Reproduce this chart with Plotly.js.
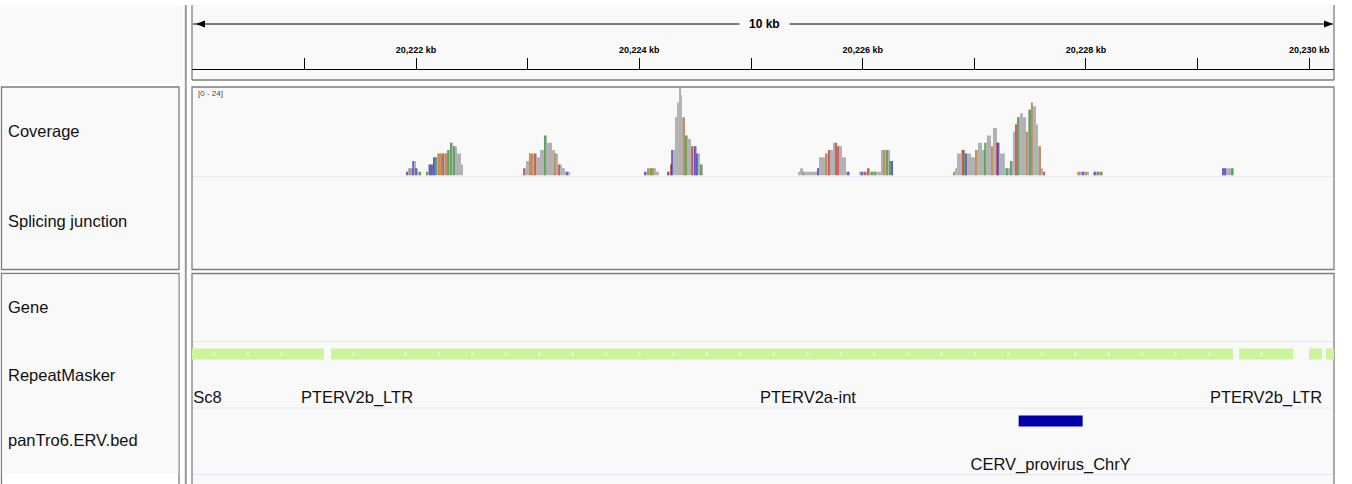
<!DOCTYPE html>
<html>
<head>
<meta charset="utf-8">
<script src="https://cdn.plot.ly/plotly-3.0.1.min.js"></script>
<style>html,body{margin:0;padding:0;background:#fff;}#chart{width:1352px;height:484px;}</style>
</head>
<body>
<div id="chart"></div>
<script>
// ---------------- data ----------------
// visible genomic window (bp)
const viewStart = 20219994;
const viewEnd = 20230221;
// ruler ticks (kb)
const tickKb = [20221, 20222, 20223, 20224, 20225, 20226, 20227, 20228, 20229, 20230];
// coverage: each step starts at covPos and runs to the next position; depth 0 = gap
const covPos = [
  20221910,20221928,20221973,20222000,20222018,20222045,
  20222090,20222107,20222152,20222188,20222278,20222304,20222331,20222367,20222403,20222421,
  20222958,20222985,20223012,20223084,20223110,20223146,20223173,20223218,20223245,20223272,20223307,20223334,20223379,
  20224042,20224069,20224149,20224176,
  20224248,20224275,20224292,20224319,20224337,20224355,20224373,20224382,20224409,20224436,20224463,20224489,20224516,20224543,20224570,
  20225421,20225439,20225466,20225591,20225609,20225663,20225689,20225734,20225770,20225815,20225851,20225886,
  20225967,20226039,20226066,20226164,20226245,20226272,
  20226809,20226827,20226845,20226880,20226916,20226970,20227006,20227033,20227069,20227095,20227113,20227149,20227167,20227203,20227230,20227274,20227319,20227346,20227364,20227382,20227409,20227436,20227463,20227480,20227507,20227525,20227552,20227570,20227597,20227615,20227633,
  20227919,20228027,20228063,20228152,
  20229218,20229325
];
const covDepth = [
  1,2,4,2,1,0,
  1,3,5,6,7,9,8,6,3,0,
  2,4,6,5,7,11,9,7,6,3,2,1,0,
  1,2,1,0,
  1,3,7,16,20,24,22,16,11,10,8,8,6,3,0,
  1,2,1,2,5,6,7,9,8,5,1,0,
  1,2,1,7,4,0,
  1,2,6,7,6,5,7,9,7,9,11,8,13,9,6,2,4,12,14,16,17,16,12,18,20,19,14,8,2,1,0,
  1,0,1,0,
  2,0
];
const covMax = 24;
// mismatch positions and alternate base
const mmPos = [
  20221919,20221946,20221973,20222000,20222036,20222099,20222125,20222143,20222161,20222179,
  20222206,20222224,20222242,20222269,20222287,20222313,20222340,20222967,20223021,20223039,
  20223066,20223155,20223245,20223281,20223352,20224051,20224078,20224104,20224122,20224257,
  20224284,20224292,20224400,20224418,20224472,20224498,20224516,20224552,20225466,20225600,
  20225672,20225698,20225761,20225779,20225869,20225994,20226021,20226048,20226084,20226110,
  20226191,20226218,20226245,20226263,20226818,20226898,20226907,20226925,20227015,20227095,
  20227158,20227203,20227212,20227292,20227328,20227373,20227391,20227472,20227498,20227516,
  20227588,20227624,20227937,20227973,20228000,20228080,20228107,20228134,20229227,20229245,
  20229308
];
const mmBase = [
  'C','G','C','C','A','A','C','C','C','A',
  'G','G','T','G','A','A','A','T','G','G',
  'T','A','G','T','C','C','G','A','G','C',
  'T','C','G','A','T','C','C','A','G','C',
  'G','T','T','T','C','C','T','T','A','A',
  'G','A','A','C','G','T','A','C','G','A',
  'G','T','C','A','A','T','A','G','A','G',
  'G','T','G','C','G','C','T','A','C','C',
  'A'
];
// RepeatMasker features
const rmStart  = [20219090, 20221239, 20221704, 20229370, 20229997, 20230149];
const rmEnd    = [20221176, 20221704, 20229316, 20229854, 20230113, 20230900];
const rmStrand = ['-', '+', '+', '+', '+', '+'];
const rmName   = ['Sc8', 'PTERV2b_LTR', 'PTERV2a-int', 'PTERV2b_LTR', '', ''];
// panTro6.ERV.bed features
const ervStart = [20227397];
const ervEnd   = [20227970];
const ervName  = ['CERV_provirus_ChrY'];
// track names
const trackNames = ['Coverage', 'Splicing junction', 'Gene', 'RepeatMasker', 'panTro6.ERV.bed'];

// ---------------- helpers ----------------
const W = 1352, H = 484;
const PX = x => x / W;
const PY = y => 1 - y / H;
const FONT = 'Liberation Sans, Arial, Helvetica, sans-serif';
const baseColor = {A: 'rgb(20,150,20)', C: 'rgb(20,20,220)', G: 'rgb(209,113,5)', T: 'rgb(230,20,20)'};
function depthAt(p) {
  let d = 0;
  for (let i = 0; i < covPos.length; i++) { if (covPos[i] <= p) d = covDepth[i]; else break; }
  return d;
}
function kbLabel(kb) { return String(kb).replace(/\B(?=(\d{3})+(?!\d))/g, ',') + ' kb'; }

// coverage steps
const cx = [], cw = [], cy = [];
for (let i = 0; i < covPos.length - 1; i++) {
  if (covDepth[i] > 0) {
    cx.push((covPos[i] + covPos[i + 1]) / 2);
    cw.push(covPos[i + 1] - covPos[i]);
    cy.push(covDepth[i]);
  }
}

// rows in the feature panel (y2 values are screen rows)
const rmRow = 354, rmLabelRow = 399, ervRow = 421, ervLabelRow = 466;

// chevrons
const chevX = [], chevT = [];
rmStart.forEach((s, i) => {
  const a = Math.max(s, viewStart), b = Math.min(rmEnd[i], viewEnd);
  for (let p = a + 200; p < b - 120; p += 300) { chevX.push(p); chevT.push(rmStrand[i] === '-' ? '‹' : '›'); }
});
// labels
const labX = [], labT = [];
rmName.forEach((n, i) => {
  if (!n) return;
  labX.push((rmStart[i] + rmEnd[i]) / 2); labT.push(n);
});

const traces = [
  {type: 'bar', x: cx, y: cy, width: cw, marker: {color: 'rgb(178,178,178)', line: {width: 0}},
   xaxis: 'x', yaxis: 'y', hoverinfo: 'skip', textposition: 'none'},
  {type: 'bar', x: mmPos, y: mmPos.map(depthAt), width: mmPos.map(() => 9),
   marker: {color: mmBase.map(b => baseColor[b]), line: {width: 0}},
   xaxis: 'x', yaxis: 'y', hoverinfo: 'skip', textposition: 'none'},
  {type: 'bar', orientation: 'h', base: rmStart, x: rmStart.map((s, i) => rmEnd[i] - s),
   y: rmStart.map(() => rmRow), width: 11, marker: {color: 'rgb(202,245,155)', line: {width: 0}},
   xaxis: 'x', yaxis: 'y2', hoverinfo: 'skip', textposition: 'none'},
  {type: 'scatter', mode: 'text', x: chevX, y: chevX.map(() => rmRow), text: chevT,
   textfont: {family: FONT, size: 10, color: 'rgba(255,255,255,0.9)'},
   xaxis: 'x', yaxis: 'y2', hoverinfo: 'skip'},
  {type: 'scatter', mode: 'text', x: labX, y: labX.map(() => rmLabelRow), text: labT, textposition: 'middle center',
   textfont: {family: FONT, size: 16.5, color: '#111'}, cliponaxis: false,
   xaxis: 'x', yaxis: 'y2', hoverinfo: 'skip'},
  {type: 'bar', orientation: 'h', base: ervStart, x: ervStart.map((s, i) => ervEnd[i] - s),
   y: ervStart.map(() => ervRow), width: 11, marker: {color: 'rgb(0,0,170)', line: {width: 0}},
   xaxis: 'x', yaxis: 'y2', hoverinfo: 'skip', textposition: 'none'},
  {type: 'scatter', mode: 'text', x: ervStart.map((s, i) => (s + ervEnd[i]) / 2), y: ervStart.map(() => ervLabelRow),
   text: ervName, textposition: 'middle center', textfont: {family: FONT, size: 16.5, color: '#111'}, cliponaxis: false,
   xaxis: 'x', yaxis: 'y2', hoverinfo: 'skip'}
];

// ---------------- layout ----------------
const border = 'rgb(125,125,125)';
const panelBg = '#f9f9f9';
const L = (x0, y0, x1, y1, color, w, layer) => ({type: 'line', xref: 'paper', yref: 'paper',
  x0: PX(x0), x1: PX(x1), y0: PY(y0), y1: PY(y1), line: {color: color, width: w}, layer: layer || 'above'});
const shapes = [
  // ruler row
  {type: 'rect', xref: 'paper', yref: 'paper', x0: PX(0), x1: PX(183), y0: PY(81), y1: PY(5), fillcolor: panelBg, line: {width: 0}, layer: 'below'},
  {type: 'rect', xref: 'paper', yref: 'paper', x0: PX(192), x1: PX(1334), y0: PY(80), y1: PY(5), fillcolor: panelBg, line: {width: 0}, layer: 'below'},
  L(192, 5, 192, 80, border, 1.3, 'below'), L(1334, 5, 1334, 80, border, 1.3, 'below'), L(192, 80, 1334, 80, border, 1.3, 'below'),
  // coverage / splice panel
  {type: 'rect', xref: 'paper', yref: 'paper', x0: PX(1.5), x1: PX(179), y0: PY(269.5), y1: PY(87), fillcolor: panelBg, line: {color: border, width: 1.3}, layer: 'below'},
  {type: 'rect', xref: 'paper', yref: 'paper', x0: PX(192), x1: PX(1334), y0: PY(269.5), y1: PY(87), fillcolor: panelBg, line: {color: border, width: 1.3}, layer: 'below'},
  // feature panel
  {type: 'rect', xref: 'paper', yref: 'paper', x0: PX(1.5), x1: PX(179), y0: PY(490), y1: PY(273.5), fillcolor: '#fff', line: {color: border, width: 1.3}, layer: 'below'},
  {type: 'rect', xref: 'paper', yref: 'paper', x0: PX(2.2), x1: PX(178.3), y0: PY(474), y1: PY(274.2), fillcolor: panelBg, line: {width: 0}, layer: 'below'},
  {type: 'rect', xref: 'paper', yref: 'paper', x0: PX(192), x1: PX(1334), y0: PY(490), y1: PY(273.5), fillcolor: panelBg, line: {color: border, width: 1.3}, layer: 'below'},
  // divider
  L(185.8, 5, 185.8, 484, '#9a9a9a', 2),
  // track separators
  L(193, 176.5, 1333, 176.5, '#e8e8ee', 1, 'below'),
  L(193, 341.5, 1333, 341.5, '#e6e6f0', 1, 'below'),
  L(193, 408, 1333, 408, '#e6e6f0', 1, 'below'),
  L(193, 474.5, 1333, 474.5, '#e6e6f0', 1, 'below'),
  // span line with arrows
  L(193, 24, 1333, 24, '#000', 1),
  {type: 'path', xref: 'paper', yref: 'paper',
   path: `M ${PX(196)} ${PY(24)} L ${PX(205)} ${PY(20.5)} L ${PX(205)} ${PY(27.5)} Z`, fillcolor: '#000', line: {width: 0}},
  {type: 'path', xref: 'paper', yref: 'paper',
   path: `M ${PX(1333)} ${PY(24)} L ${PX(1324)} ${PY(20.5)} L ${PX(1324)} ${PY(27.5)} Z`, fillcolor: '#000', line: {width: 0}}
];

const labelRows = [131, 221, 307, 375, 440];
const annotations = trackNames.map((t, i) => ({
  text: t, xref: 'paper', yref: 'paper', x: PX(5.5), y: PY(labelRows[i]), xanchor: 'left', yanchor: 'middle',
  showarrow: false, font: {family: FONT, size: 16.5, color: '#111'}
}));
annotations.push({
  text: Math.round((viewEnd - viewStart) / 1000) + ' kb', xref: 'paper', yref: 'paper', x: PX(764), y: PY(24),
  xanchor: 'center', yanchor: 'middle', showarrow: false, bgcolor: panelBg, borderpad: 9,
  font: {family: FONT, size: 12, color: '#000', weight: 'bold'}
});
annotations.push({
  text: '[0 - ' + covMax + ']', xref: 'paper', yref: 'paper', x: PX(196), y: PY(93.5), xanchor: 'left', yanchor: 'middle',
  showarrow: false, font: {family: FONT, size: 8, color: '#444'}
});

const layout = {
  width: W, height: H, margin: {l: 0, r: 0, t: 0, b: 0},
  paper_bgcolor: '#fff', plot_bgcolor: 'rgba(0,0,0,0)',
  showlegend: false, barmode: 'overlay',
  xaxis: {
    domain: [PX(192), PX(1334)], range: [viewStart, viewEnd], anchor: 'free', position: PY(69), side: 'top',
    showline: true, linecolor: '#000', linewidth: 1, ticks: 'outside', ticklen: 11, tickwidth: 1, tickcolor: '#000',
    ticklabelstandoff: 1,
    tickmode: 'array', tickvals: tickKb.map(k => k * 1000), ticktext: tickKb.map(k => k % 2 === 0 ? kbLabel(k) : ''),
    tickfont: {family: FONT, size: 9, color: '#000', weight: 'bold'}, showgrid: false, zeroline: false, fixedrange: true
  },
  yaxis: {domain: [PY(175.5), PY(88)], range: [0, covMax], visible: false, fixedrange: true},
  yaxis2: {domain: [0, PY(273)], range: [484, 273], visible: false, fixedrange: true},
  shapes: shapes, annotations: annotations
};

Plotly.newPlot('chart', traces, layout, {staticPlot: true, displayModeBar: false});
</script>
</body>
</html>
